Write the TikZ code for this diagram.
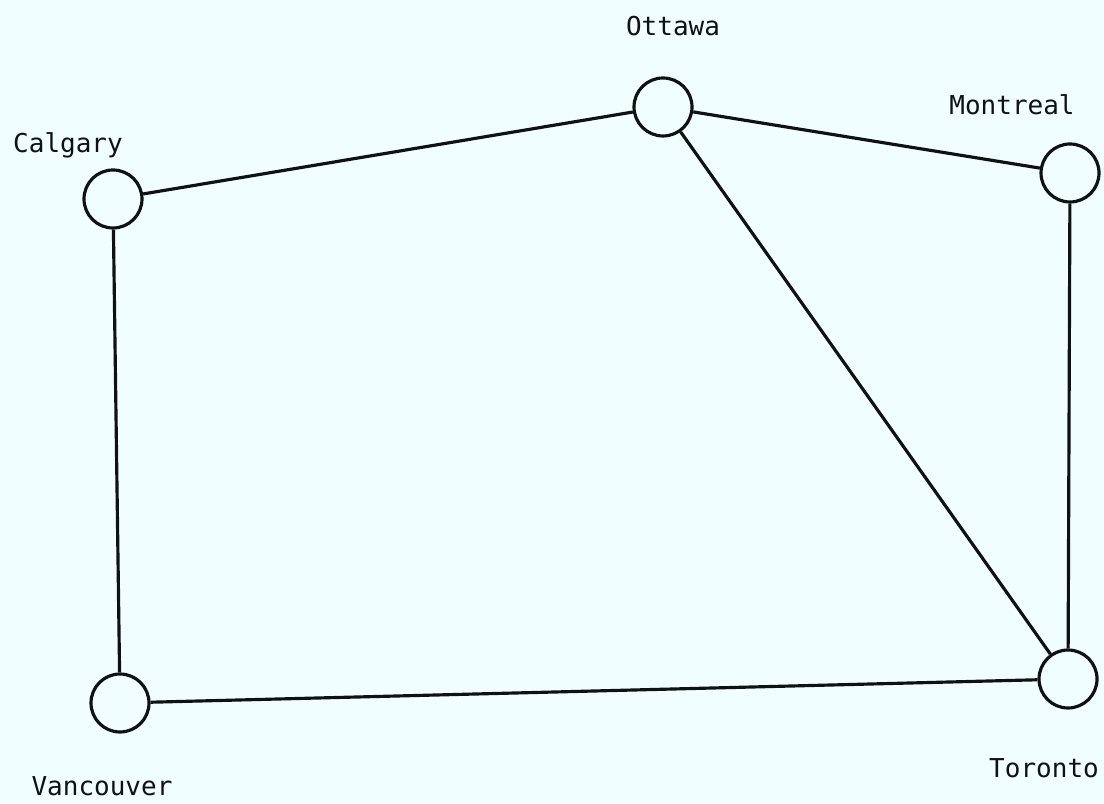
\documentclass[tikz,border=0pt]{standalone}
\usepackage{fontspec}
\setmonofont{DejaVu Sans Mono}
\usepackage{xcolor}
\definecolor{scanbg}{HTML}{F0FEFF}
\definecolor{inkblack}{HTML}{111111}
\usetikzlibrary{positioning}

\begin{document}
\begin{tikzpicture}[
  font=\ttfamily\fontsize{7.4}{9}\selectfont,
  city/.style={draw=inkblack, line width=0.9pt, circle, minimum size=0.58cm, inner sep=0pt, fill=scanbg},
  cityname/.style={anchor=base, inner sep=0pt, text=inkblack},
  road/.style={draw=inkblack, line width=0.9pt},
]
  \fill[scanbg] (0,0) rectangle (11.04,8.03);
  \useasboundingbox (0,0) rectangle (11.04,8.03);
  \node[city] (ottawa)    at (6.63,6.96)  {};
  \node[city] (calgary)   at (1.13,6.04)  {};
  \node[city] (montreal)  at (10.70,6.30) {};
  \node[city] (vancouver) at (1.20,1.00)  {};
  \node[city] (toronto)   at (10.68,1.24) {};
  \node[cityname] (ottawaname)    at (6.73,7.67)  {Ottawa};
  \node[cityname] (calgaryname)   at (0.68,6.50)  {Calgary};
  \node[cityname] (montrealname)  at (10.12,6.88) {Montreal};
  \node[cityname] (vancouvername) at (1.02,0.08)  {Vancouver};
  \node[cityname] (torontoname)   at (10.44,0.26) {Toronto};
  \draw[road] (calgary) -- (ottawa);
  \draw[road] (ottawa) -- (montreal);
  \draw[road] (ottawa) -- (toronto);
  \draw[road] (montreal) -- (toronto);
  \draw[road] (calgary) -- (vancouver);
  \draw[road] (vancouver) -- (toronto);
\end{tikzpicture}
\end{document}
